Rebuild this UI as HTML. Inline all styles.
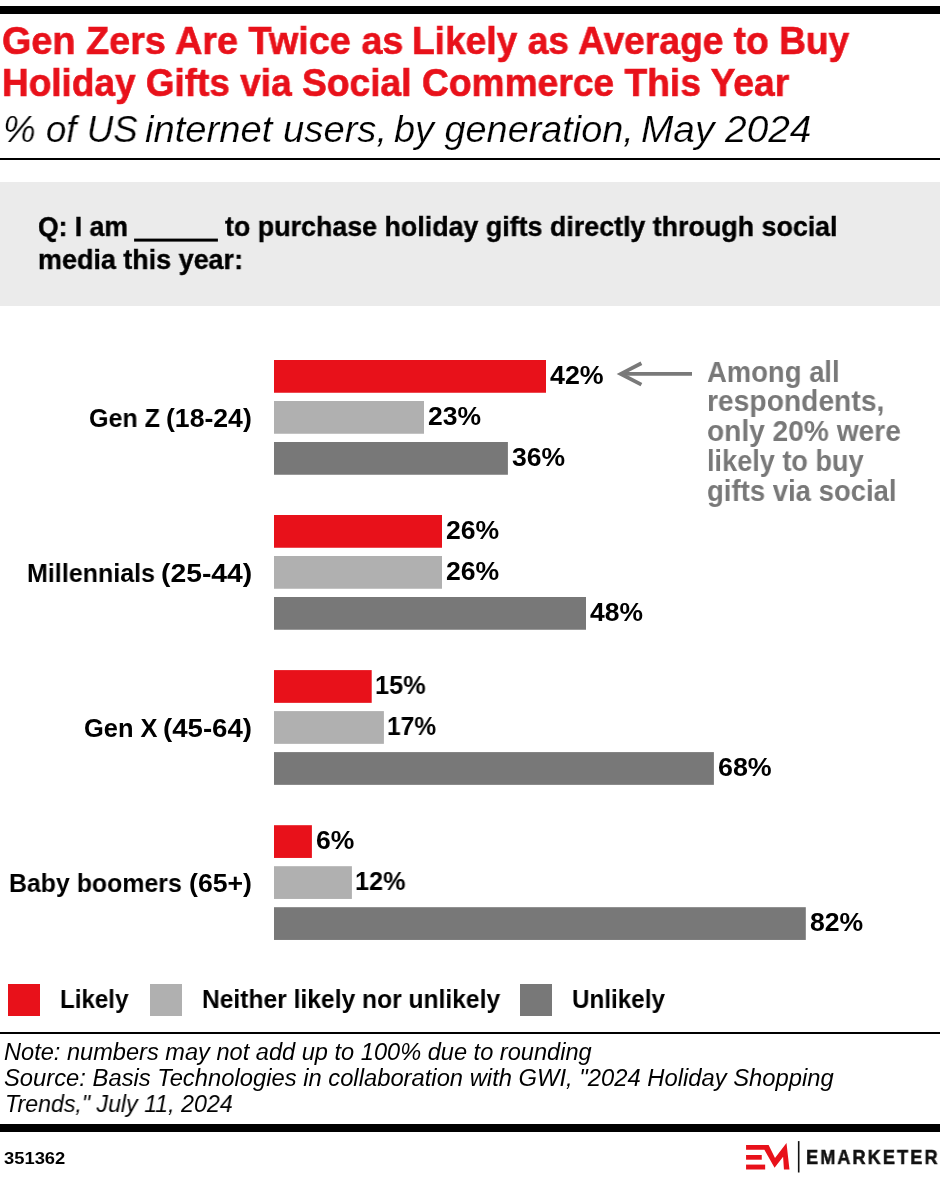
<!DOCTYPE html>
<html>
<head>
<meta charset="utf-8">
<title>Gen Zers Are Twice as Likely as Average to Buy Holiday Gifts via Social Commerce This Year</title>
<style>
  html, body { margin:0; padding:0; background:#fff; }
  body { width:940px; height:1184px; position:relative; overflow:hidden;
         font-family:"Liberation Sans", sans-serif; color:#000; }
  .t { position:absolute; white-space:nowrap; line-height:1; transform-origin:left top; margin:0; padding:0; will-change:transform; }
  .bar { position:absolute; }
  .title { color:#e8111a; font-weight:bold; -webkit-text-stroke:0.6px #e8111a; }
  .sub { font-style:italic; -webkit-text-stroke:0.22px #fff; }
  .q { font-weight:bold; -webkit-text-stroke:0.4px #000; }
  .cat { font-weight:bold; }
  .val { font-weight:bold; }
  .ann { font-weight:bold; color:#787878; }
  .leg { font-weight:bold; }
  .note { font-style:italic; }
  .idn { font-weight:bold; }
  .lgt { font-weight:bold; color:#111; -webkit-text-stroke:0.5px #111; }
</style>
</head>
<body>
<!-- top rule -->
<div class="bar" style="left:0;top:6px;width:940px;height:8px;background:#000"></div>
<div class="bar" style="left:0;top:158px;width:940px;height:2px;background:#000"></div>
<!-- question box -->
<div class="bar" style="left:0;top:182px;width:940px;height:124px;background:#ebebeb"></div>
<svg width="940" height="1184" style="position:absolute;left:0;top:0">
  <rect x="134.1" y="238.6" width="83.8" height="3" fill="#000"/>
  <g fill="#e8111a">
    <rect x="274.0" y="360.0" width="272.0" height="32.75"/>
    <rect x="274.0" y="515.0" width="168.0" height="32.75"/>
    <rect x="274.0" y="670.1" width="97.7" height="32.75"/>
    <rect x="274.0" y="825.2" width="37.9" height="32.75"/>
  </g>
  <g fill="#b0b0b0">
    <rect x="274.0" y="401.0" width="150.0" height="32.75"/>
    <rect x="274.0" y="556.0" width="168.0" height="32.75"/>
    <rect x="274.0" y="711.1" width="109.9" height="32.75"/>
    <rect x="274.0" y="866.2" width="77.9" height="32.75"/>
  </g>
  <g fill="#787878">
    <rect x="274.0" y="442.0" width="233.9" height="32.75"/>
    <rect x="274.0" y="597.0" width="312.0" height="32.75"/>
    <rect x="274.0" y="752.1" width="439.9" height="32.75"/>
    <rect x="274.0" y="907.2" width="531.8" height="32.75"/>
  </g>
  <g fill="none" stroke="#797979" stroke-width="3.8" stroke-miterlimit="10">
    <path d="M692 373.9 H624"/>
    <path d="M641.4 363.2 L620.8 373.9 L641.4 384.6"/>
  </g>
</svg>
<div id="t1a" class="t title" style="left:2.03px;top:20.79px;font-size:39px;transform:scaleX(0.9695);">Gen Zers Are Twice as</div>
<div id="t1b" class="t title" style="left:411.88px;top:20.79px;font-size:39px;transform:scaleX(0.9531);">Likely as Average to Buy</div>
<div id="t2a" class="t title" style="left:2.28px;top:62.89px;font-size:39px;transform:scaleX(0.9478);">Holiday Gifts via</div>
<div id="t2b" class="t title" style="left:301.55px;top:62.89px;font-size:39px;transform:scaleX(0.9536);">Social Commerce This Year</div>
<div id="sta" class="t sub" style="left:2.87px;top:110.96px;font-size:37.5px;transform:scaleX(0.9796);">% of US</div>
<div id="std" class="t sub" style="left:145.07px;top:110.96px;font-size:37.5px;transform:scaleX(1.0188);">internet users,</div>
<div id="stb" class="t sub" style="left:394.44px;top:110.96px;font-size:37.5px;transform:scaleX(1.0093);">by generation,</div>
<div id="stc" class="t sub" style="left:640.86px;top:110.96px;font-size:37.5px;transform:scaleX(1.0350);">May 2024</div>
<div id="q1a" class="t q" style="left:37.99px;top:213.27px;font-size:27.8px;transform:scaleX(0.9547);">Q: I am</div>
<div id="q1b" class="t q" style="left:225.04px;top:213.27px;font-size:27.8px;transform:scaleX(0.9650);">to purchase holiday gifts directly through social</div>
<div id="q2" class="t q" style="left:38.28px;top:245.97px;font-size:27.8px;transform:scaleX(0.9684);">media this year:</div>
<div id="c1a" class="t cat" style="left:89.23px;top:406.28px;font-size:25.3px;transform:scaleX(0.9899);">Gen Z</div>
<div id="c1b" class="t cat" style="left:166.02px;top:406.28px;font-size:25.3px;transform:scaleX(1.0515);">(18-24)</div>
<div id="c2a" class="t cat" style="left:27.15px;top:561.33px;font-size:25.3px;transform:scaleX(0.9894);">Millennials</div>
<div id="c2b" class="t cat" style="left:160.72px;top:561.33px;font-size:25.3px;transform:scaleX(1.1193);">(25-44)</div>
<div id="c3a" class="t cat" style="left:84.14px;top:716.38px;font-size:25.3px;transform:scaleX(1.0052);">Gen X</div>
<div id="c3b" class="t cat" style="left:163.11px;top:716.38px;font-size:25.3px;transform:scaleX(1.0919);">(45-64)</div>
<div id="c4a" class="t cat" style="left:9.36px;top:871.43px;font-size:25.3px;transform:scaleX(0.9832);">Baby boomers</div>
<div id="c4b" class="t cat" style="left:188.99px;top:871.43px;font-size:25.3px;transform:scaleX(1.0541);">(65+)</div>
<div id="v1" class="t val" style="left:550.40px;top:363.03px;font-size:25.6px;transform:scaleX(1.0472);">42%</div>
<div id="v2" class="t val" style="left:428.25px;top:404.03px;font-size:25.6px;transform:scaleX(1.0355);">23%</div>
<div id="v3" class="t val" style="left:511.80px;top:445.03px;font-size:25.6px;transform:scaleX(1.0359);">36%</div>
<div id="v4" class="t val" style="left:445.67px;top:518.08px;font-size:25.6px;transform:scaleX(1.0393);">26%</div>
<div id="v5" class="t val" style="left:445.67px;top:559.08px;font-size:25.6px;transform:scaleX(1.0393);">26%</div>
<div id="v6" class="t val" style="left:589.72px;top:600.08px;font-size:25.6px;transform:scaleX(1.0320);">48%</div>
<div id="v7" class="t val" style="left:375.29px;top:673.13px;font-size:25.6px;transform:scaleX(0.9889);">15%</div>
<div id="v8" class="t val" style="left:386.88px;top:714.13px;font-size:25.6px;transform:scaleX(0.9578);">17%</div>
<div id="v9" class="t val" style="left:717.78px;top:755.13px;font-size:25.6px;transform:scaleX(1.0491);">68%</div>
<div id="v10" class="t val" style="left:315.59px;top:828.18px;font-size:25.6px;transform:scaleX(1.0361);">6%</div>
<div id="v11" class="t val" style="left:355.38px;top:869.18px;font-size:25.6px;transform:scaleX(0.9854);">12%</div>
<div id="v12" class="t val" style="left:810.30px;top:910.18px;font-size:25.6px;transform:scaleX(1.0392);">82%</div>
<div id="a1" class="t ann" style="left:706.77px;top:357.88px;font-size:29.2px;transform:scaleX(0.9400);">Among all</div>
<div id="a2" class="t ann" style="left:706.92px;top:386.73px;font-size:29.2px;transform:scaleX(0.9674);">respondents,</div>
<div id="a3" class="t ann" style="left:707.40px;top:416.58px;font-size:29.2px;transform:scaleX(0.9635);">only 20% were</div>
<div id="a4" class="t ann" style="left:707.38px;top:447.43px;font-size:29.2px;transform:scaleX(0.9286);">likely to buy</div>
<div id="a5" class="t ann" style="left:706.77px;top:477.28px;font-size:29.2px;transform:scaleX(0.9423);">gifts via social</div>
<div id="l1" class="t leg" style="left:60.00px;top:987.18px;font-size:25.3px;transform:scaleX(0.9542);">Likely</div>
<div id="l2" class="t leg" style="left:201.56px;top:987.18px;font-size:25.3px;transform:scaleX(0.9726);">Neither likely nor unlikely</div>
<div id="l3" class="t leg" style="left:572.45px;top:987.18px;font-size:25.3px;transform:scaleX(0.9580);">Unlikely</div>
<div id="n1" class="t note" style="left:3.78px;top:1040.88px;font-size:23.3px;transform:scaleX(1.0129);">Note: numbers may not add up to 100% due to rounding</div>
<div id="n2" class="t note" style="left:3.57px;top:1066.98px;font-size:23.3px;transform:scaleX(1.0206);">Source: Basis Technologies in collaboration with GWI, &quot;2024 Holiday Shopping</div>
<div id="n3" class="t note" style="left:4.94px;top:1092.98px;font-size:23.3px;transform:scaleX(0.9945);">Trends,&quot; July 11, 2024</div>
<div id="id" class="t idn" style="left:3.98px;top:1149.83px;font-size:16.5px;transform:scaleX(1.1128);">351362</div>
<div id="lg" class="t lgt" style="left:806.02px;top:1146.97px;font-size:20px;letter-spacing:2.3px;transform:scaleX(0.9064);">EMARKETER</div>
<div class="bar" style="left:8px;top:984px;width:32px;height:32px;background:#e8111a"></div>
<div class="bar" style="left:150px;top:984px;width:32px;height:32px;background:#b0b0b0"></div>
<div class="bar" style="left:520px;top:984px;width:32px;height:32px;background:#787878"></div>
<div class="bar" style="left:0;top:1032px;width:940px;height:2px;background:#000"></div>
<div class="bar" style="left:0;top:1124px;width:940px;height:8px;background:#000"></div>
<!-- logo -->
<svg width="70" height="40" viewBox="740 1138 70 40" style="position:absolute;left:740px;top:1138px">
  <g fill="#e8111a">
    <polygon points="746.06,1145.04 768.62,1145.04 775.0,1157.98 786.49,1143.09 789.47,1169.47 783.94,1169.47 783.09,1156.70 774.57,1167.77 764.36,1149.64 746.06,1149.64"/>
    <rect x="746.06" y="1155.0" width="15.7" height="4.7"/>
    <rect x="746.06" y="1164.6" width="19.1" height="4.9"/>
  </g>
  <rect x="797.9" y="1141.1" width="1.6" height="31.4" fill="#111"/>
</svg>
</body>
</html>
